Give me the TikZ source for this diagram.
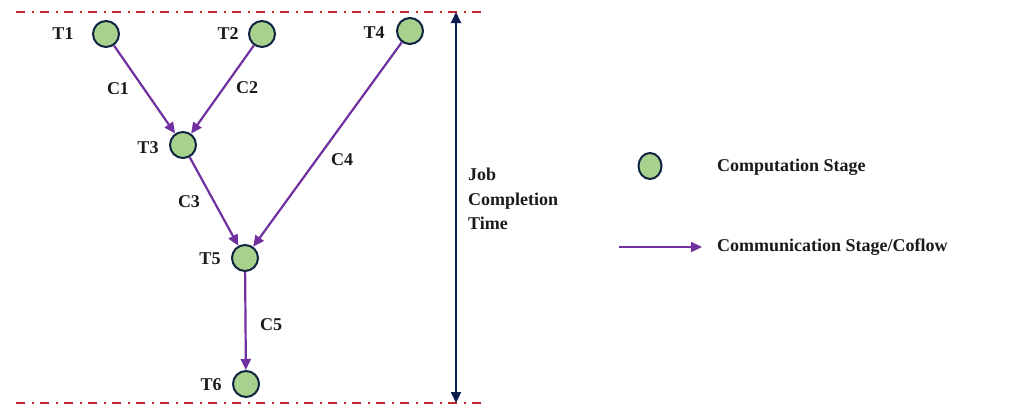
\documentclass[tikz,border=0pt]{standalone}
\usepackage{fontspec}
\setmainfont{Liberation Serif}
\usetikzlibrary{arrows.meta,shapes.geometric}
\definecolor{nodegreen}{HTML}{A9D18E}
\definecolor{nodeedge}{HTML}{0F2440}
\definecolor{flowpurple}{HTML}{7030A0}
\definecolor{limitred}{HTML}{C0262D}
\definecolor{navy}{HTML}{0B1F4E}
\definecolor{txt}{HTML}{1A1A1A}
\begin{document}
\begin{tikzpicture}[x=1pt,y=-1pt,
  task/.style={circle,draw=nodeedge,fill=nodegreen,line width=2pt,minimum size=26pt,inner sep=0pt},
  lbl/.style={font=\fontsize{18}{24.5}\selectfont\bfseries,text=txt,inner sep=0pt},
  flow/.style={draw=flowpurple,line width=2.2pt,-{Triangle[length=11pt,width=10pt]}},
  limit/.style={draw=limitred,line width=2pt,dash pattern=on 9pt off 6.5pt on 2pt off 6.5pt}]
\useasboundingbox (0,0) rectangle (1035,407);
% limits
\coordinate (tl) at (16,12); \coordinate (tr) at (484,12);
\coordinate (bl) at (16,403); \coordinate (br) at (484,403);
\draw[limit] (tl) -- (tr);
\draw[limit] (bl) -- (br);
% tasks
\node[task] (T1) at (106,34) {};
\node[task] (T2) at (262,34) {};
\node[task] (T4) at (410,31) {};
\node[task] (T3) at (183,145) {};
\node[task] (T5) at (245,258) {};
\node[task] (T6) at (246,384) {};
\node[lbl] (L1) at (63,34) {T1};
\node[lbl] (L2) at (228,34) {T2};
\node[lbl] (L4) at (374,33) {T4};
\node[lbl] (L3) at (148,148) {T3};
\node[lbl] (L5) at (210,259) {T5};
\node[lbl] (L6) at (211,385) {T6};
% flows
\draw[flow] (T1) -- (T3);
\draw[flow] (T2) -- (T3);
\draw[flow] (T3) -- (T5);
\draw[flow] (T4) -- (T5);
\draw[flow] (T5) -- (T6);
\node[lbl] (C1) at (118,89) {C1};
\node[lbl] (C2) at (247,88) {C2};
\node[lbl] (C3) at (189,202) {C3};
\node[lbl] (C4) at (342,160) {C4};
\node[lbl] (C5) at (271,325) {C5};
% job completion time
\coordinate (jt) at (456,12); \coordinate (jb) at (456,403);
\draw[navy,line width=2pt,{Triangle[length=11pt,width=10pt]}-{Triangle[length=11pt,width=10pt]}] (jt) -- (jb);
\node[lbl,anchor=west,align=left] (JCT) at (468,199) {Job\\Completion\\Time};
% legend
\node[ellipse,draw=nodeedge,fill=nodegreen,line width=2pt,minimum width=23pt,minimum height=26pt,inner sep=0pt] (LG) at (650,166) {};
\node[lbl,anchor=west] (LGT) at (717,167) {Computation Stage};
\coordinate (la) at (619,247); \coordinate (lb) at (702,247);
\draw[flow] (la) -- (lb);
\node[lbl,anchor=west] (LFT) at (717,247) {Communication Stage/Coflow};
\end{tikzpicture}
\end{document}
